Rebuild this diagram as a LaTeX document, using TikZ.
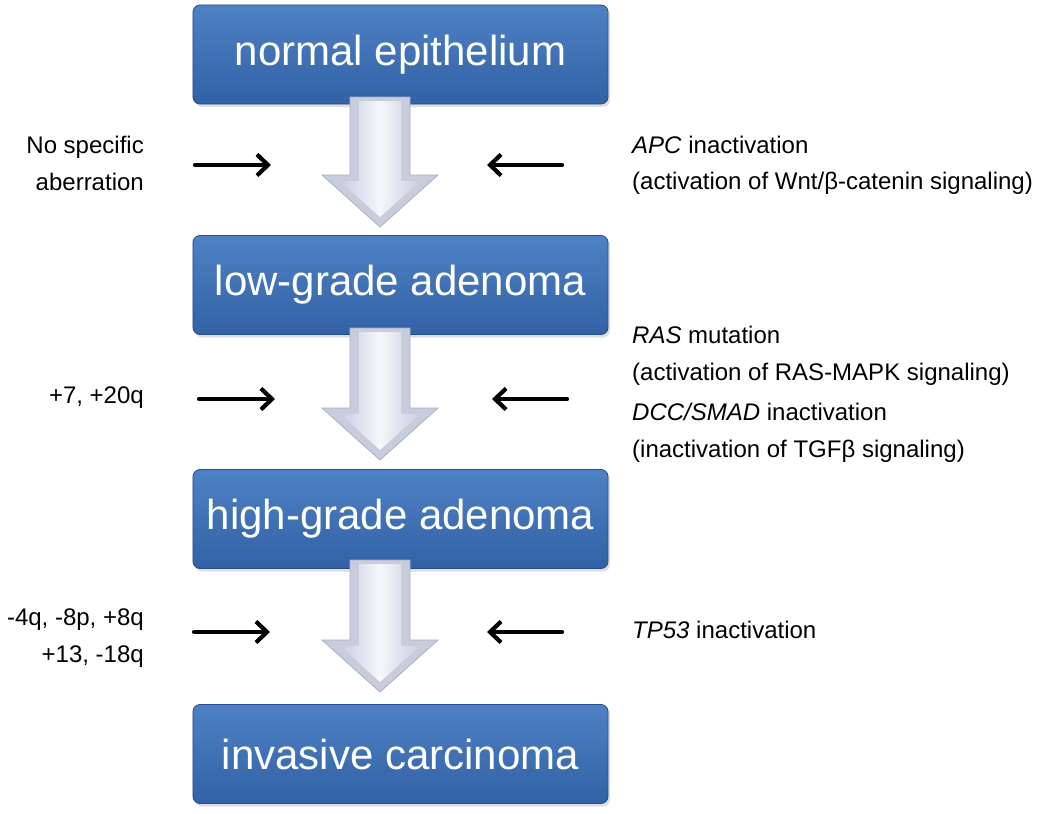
\documentclass[tikz,border=0pt]{standalone}
\usepackage{fontspec}
\setmainfont{Liberation Sans}
\usetikzlibrary{arrows.meta,shadows,calc}
\definecolor{boxtop}{RGB}{78,130,196}
\definecolor{boxbot}{RGB}{50,97,165}
\definecolor{boxline}{RGB}{38,78,140}
\definecolor{arrowedge}{RGB}{170,176,196}
\definecolor{arrowside}{RGB}{200,205,222}
\definecolor{arrowmid}{RGB}{246,247,251}
\tikzset{
  stagebox/.style={rectangle, rounded corners=7bp, draw=boxline, line width=0.8bp,
    top color=boxtop, bottom color=boxbot, text=white,
    font=\fontsize{42bp}{50bp}\selectfont,
    minimum width=415bp, minimum height=99bp, inner sep=0pt,
    drop shadow={shadow xshift=2bp, shadow yshift=-3bp, opacity=0.25}},
  lbl/.style={font=\fontsize{24bp}{30bp}\selectfont, inner sep=0pt, text=black},
  pointer/.style={line width=4.2bp, line cap=round,
    -{Straight Barb[length=11bp,width=21bp,line width=4.2bp]}},
}
\newcommand{\bigarrow}[2]{%
  % #1 top coordinate, #2 tip coordinate
  \path[draw=arrowedge, line width=0.8bp, fill=arrowside]
    ($(#1)+(-30,0)$) -- ($(#1)+(30,0)$) -- ($(#2)+(30,-52)$) -- ($(#2)+(58,-52)$)
    -- (#2) -- ($(#2)+(-58,-52)$) -- ($(#2)+(-30,-52)$) -- cycle;
  \path[left color=arrowside, right color=arrowside, middle color=arrowmid]
    ($(#1)+(-21,4)$) -- ($(#1)+(21,4)$) -- ($(#2)+(21,-46)$) -- ($(#2)+(40,-46)$)
    -- ($(#2)+(0,-10)$) -- ($(#2)+(-40,-46)$) -- ($(#2)+(-21,-46)$) -- cycle;
}
\begin{document}
\begin{tikzpicture}[x=1bp,y=-1bp]
\useasboundingbox (0,0) rectangle (1050,814);

% stage boxes
\node[stagebox] (b1) at (400.5,54.5) {normal epithelium};
\node[stagebox] (b2) at (400.5,285) {low-grade adenoma};
\node[stagebox] (b3) at (400.5,519) {high-grade adenoma};
\node[stagebox] (b4) at (400.5,754) {invasive carcinoma};

% block arrows
\coordinate (a1t) at (380,97);  \coordinate (a1h) at (380,227);
\coordinate (a2t) at (380,328); \coordinate (a2h) at (380,460);
\coordinate (a3t) at (380,560); \coordinate (a3h) at (380,692);
\bigarrow{a1t}{a1h}
\bigarrow{a2t}{a2h}
\bigarrow{a3t}{a3h}

% small arrows
\coordinate (l1s) at (195,165); \coordinate (l1e) at (271,165);
\coordinate (r1s) at (562,165); \coordinate (r1e) at (487,165);
\coordinate (l2s) at (199,399); \coordinate (l2e) at (275,399);
\coordinate (r2s) at (567,399); \coordinate (r2e) at (492,399);
\coordinate (l3s) at (194,632); \coordinate (l3e) at (270,632);
\coordinate (r3s) at (562,632); \coordinate (r3e) at (487,632);
\draw[pointer] (l1s) -- (l1e);
\draw[pointer] (r1s) -- (r1e);
\draw[pointer] (l2s) -- (l2e);
\draw[pointer] (r2s) -- (r2e);
\draw[pointer] (l3s) -- (l3e);
\draw[pointer] (r3s) -- (r3e);

% left labels
\node[lbl, anchor=base east] (t1a) at (144,153) {No specific};
\node[lbl, anchor=base east] (t1b) at (144,190) {aberration};
\node[lbl, anchor=base east] (t2) at (144,403) {+7, +20q};
\node[lbl, anchor=base east] (t3a) at (144,625) {-4q, -8p, +8q};
\node[lbl, anchor=base east] (t3b) at (144,662) {+13, -18q};

% right labels
\node[lbl, anchor=base west] (u1a) at (632,153) {\textit{APC} inactivation};
\node[lbl, anchor=base west] (u1b) at (632,189) {(activation of Wnt/β-catenin signaling)};
\node[lbl, anchor=base west] (u2a) at (632,343) {\textit{RAS} mutation};
\node[lbl, anchor=base west] (u2b) at (632,380) {(activation of RAS-MAPK signaling)};
\node[lbl, anchor=base west] (u2c) at (632,420) {\textit{DCC/SMAD} inactivation};
\node[lbl, anchor=base west] (u2d) at (632,457) {(inactivation of TGFβ signaling)};
\node[lbl, anchor=base west] (u3) at (632,638) {\textit{TP53} inactivation};
\end{tikzpicture}
\end{document}
